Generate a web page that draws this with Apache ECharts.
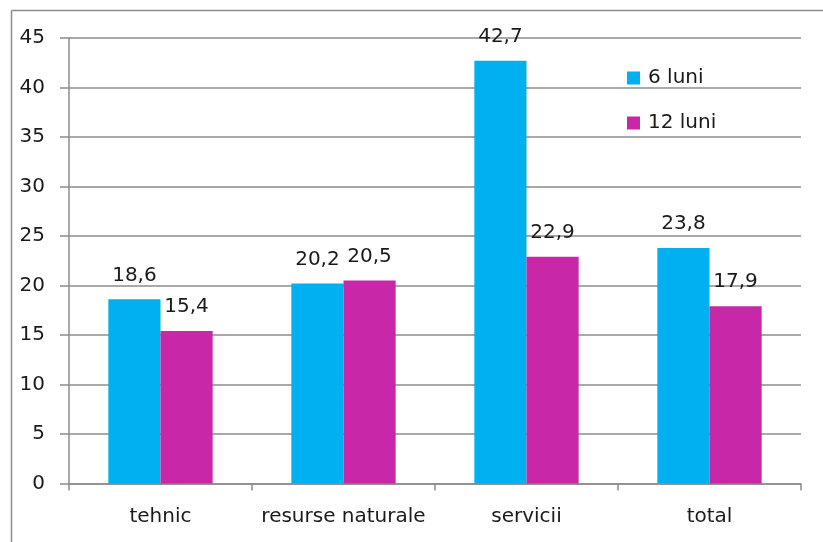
<!DOCTYPE html>
<html>
<head>
<meta charset="utf-8">
<script src="https://cdn.jsdelivr.net/npm/echarts@6/dist/echarts.min.js"></script>
<style>
html,body{margin:0;padding:0;background:#fff;overflow:hidden;}
#chart{width:823px;height:542px;}
</style>
</head>
<body>
<div id="chart"></div>
<script>
const categories = ['tehnic', 'resurse naturale', 'servicii', 'total'];
const series6 = [18.6, 20.2, 42.7, 23.8];
const series12 = [15.4, 20.5, 22.9, 17.9];
const seriesNames = ['6 luni', '12 luni'];
const yTicks = { min: 0, max: 45, interval: 5 };

const FONT = 'DejaVu Sans';
const TXT = '#1a1a1a';
const FS = 20;
const fmt = p => String(p.value).replace('.', ',');

const chart = echarts.init(document.getElementById('chart'), null, { renderer: 'canvas' });
chart.setOption({
  animation: false,
  backgroundColor: '#fff',
  textStyle: { fontFamily: FONT },
  graphic: [
    { type: 'line', silent: true, shape: { x1: 11.5, y1: 10.5, x2: 823, y2: 10.5 },
      style: { stroke: '#8c8c8c', lineWidth: 1.5 } },
    { type: 'line', silent: true, shape: { x1: 11.5, y1: 10.5, x2: 11.5, y2: 542 },
      style: { stroke: '#8c8c8c', lineWidth: 1.5 } }
  ],
  grid: { left: 69, right: 22, top: 38, bottom: 58.5 },
  legend: {
    orient: 'vertical', left: 622, top: 63,
    itemWidth: 13, itemHeight: 13, itemGap: 25, icon: 'rect',
    textStyle: { fontFamily: FONT, fontSize: FS, color: TXT, padding: [0, 0, 0, 3] },
    data: seriesNames
  },
  xAxis: {
    type: 'category', data: categories,
    axisLine: { lineStyle: { color: '#8c8c8c', width: 1.5 } },
    axisTick: { show: true, length: 7, interval: 0, alignWithLabel: false, lineStyle: { color: '#8c8c8c', width: 1.5 } },
    axisLabel: { fontFamily: FONT, fontSize: FS, color: TXT, margin: 23, interval: 0 }
  },
  yAxis: {
    type: 'value', min: yTicks.min, max: yTicks.max, interval: yTicks.interval,
    axisLine: { show: true, lineStyle: { color: '#8c8c8c', width: 1.5 } },
    axisTick: { show: true, length: 9, lineStyle: { color: '#8c8c8c', width: 1.5 } },
    axisLabel: { fontFamily: FONT, fontSize: FS, color: TXT, margin: 24 },
    splitLine: { show: true, lineStyle: { color: '#8c8c8c', width: 1.5 } }
  },
  series: [
    {
      name: seriesNames[0], type: 'bar', data: series6,
      itemStyle: { color: '#00B0F0' },
      barGap: '0%', barCategoryGap: '43%',
      label: { show: true, position: 'top', distance: 14, formatter: fmt,
               fontFamily: FONT, fontSize: FS, color: TXT }
    },
    {
      name: seriesNames[1], type: 'bar', data: series12,
      itemStyle: { color: '#C828A8' },
      barGap: '0%', barCategoryGap: '43%',
      label: { show: true, position: 'top', distance: 14, formatter: fmt,
               fontFamily: FONT, fontSize: FS, color: TXT }
    }
  ]
});
</script>
</body>
</html>
